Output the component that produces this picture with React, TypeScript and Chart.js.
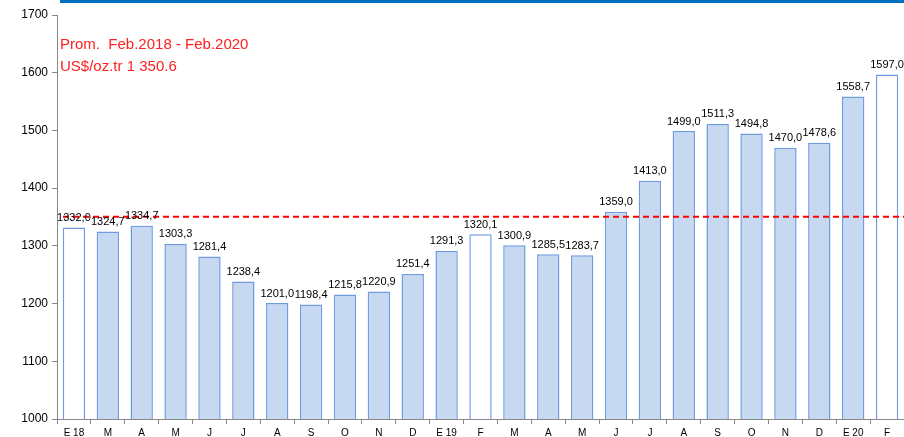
import React, { useEffect, useRef } from "react";
import { Chart, registerables } from "chart.js";

Chart.register(...registerables);

const categories = ["E 18","M","A","M","J","J","A","S","O","N","D","E 19","F","M","A","M","J","J","A","S","O","N","D","E 20","F"];
const prices = [1332.0,1324.7,1334.7,1303.3,1281.4,1238.4,1201.0,1198.4,1215.8,1220.9,1251.4,1291.3,1320.1,1300.9,1285.5,1283.7,1359.0,1413.0,1499.0,1511.3,1494.8,1470.0,1478.6,1558.7,1597.0];
const highlighted = [true,false,false,false,false,false,false,false,false,false,false,false,true,false,false,false,false,false,false,false,false,false,false,false,true];
const average = 1350.6;
const noteLines = ["Prom.  Feb.2018 - Feb.2020", "US$/oz.tr 1 350.6"];
const yTicks = [1000,1100,1200,1300,1400,1500,1600,1700];

const FONT = "'Liberation Sans', Arial, sans-serif";

const decorPlugin = {
  id: "decor",
  afterDatasetsDraw(chart: any) {
    const ctx = chart.ctx;
    const area = chart.chartArea;
    const y = chart.scales.y.getPixelForValue(average);
    ctx.save();
    ctx.strokeStyle = "#ff0000";
    ctx.lineWidth = 2;
    ctx.setLineDash([6, 4]);
    ctx.beginPath();
    ctx.moveTo(area.left + 6, y);
    ctx.lineTo(chart.width, y);
    ctx.stroke();
    ctx.setLineDash([]);
    const meta = chart.getDatasetMeta(0);
    ctx.fillStyle = "#000";
    ctx.font = `11px ${FONT}`;
    ctx.textAlign = "center";
    ctx.textBaseline = "bottom";
    meta.data.forEach((bar: any, i: number) => {
      const txt = prices[i].toFixed(1).replace(".", ",");
      ctx.fillText(txt, bar.x, bar.y - 4);
    });
    ctx.fillStyle = "#ff2020";
    ctx.font = `15px ${FONT}`;
    ctx.textAlign = "left";
    ctx.textBaseline = "middle";
    ctx.fillText(noteLines[0], 60, 45);
    ctx.fillText(noteLines[1], 60, 67);
    ctx.fillStyle = "#0070c0";
    ctx.fillRect(60, 0, chart.width - 60, 3);
    ctx.restore();
  },
};

export default function App() {
  const ref = useRef<HTMLCanvasElement>(null);
  useEffect(() => {
    const chart = new Chart(ref.current!, {
      type: "bar",
      data: {
        labels: categories,
        datasets: [
          {
            data: prices,
            backgroundColor: highlighted.map((h) => (h ? "#ffffff" : "#c6d9f1")),
            borderColor: "#6f9be0",
            borderWidth: 1.5,
            categoryPercentage: 1,
            barPercentage: 0.66,
          },
        ],
      },
      options: {
        animation: false,
        responsive: false,
        maintainAspectRatio: false,
        layout: { padding: { top: 15, right: 0, left: 0, bottom: 0 } },
        plugins: { legend: { display: false }, tooltip: { enabled: false } },
        scales: {
          x: {
            grid: { display: true, drawOnChartArea: false, offset: true, tickLength: 5, color: "#888" },
            border: { color: "#888" },
            ticks: { font: { family: FONT, size: 10 }, color: "#000", maxRotation: 0, autoSkip: false, padding: 3 },
            afterFit: (s: any) => { s.height = 18; },
          },
          y: {
            min: 1000,
            max: 1700,
            afterBuildTicks: (s: any) => { s.ticks = yTicks.map((v) => ({ value: v })); },
            grid: { display: true, drawOnChartArea: false, tickLength: 5, color: "#888" },
            border: { color: "#888" },
            ticks: { font: { family: FONT, size: 12 }, color: "#000", padding: 4, callback: (v: any) => String(v) },
            afterFit: (s: any) => { s.width = 57; },
          },
        },
      },
      plugins: [decorPlugin],
    });
    return () => chart.destroy();
  }, []);
  return (
    <div style={{ position: "fixed", left: 0, top: 0, width: 904, height: 437, background: "#fff" }}>
      <canvas ref={ref} width={904} height={437} style={{ width: 904, height: 437 }} />
    </div>
  );
}
